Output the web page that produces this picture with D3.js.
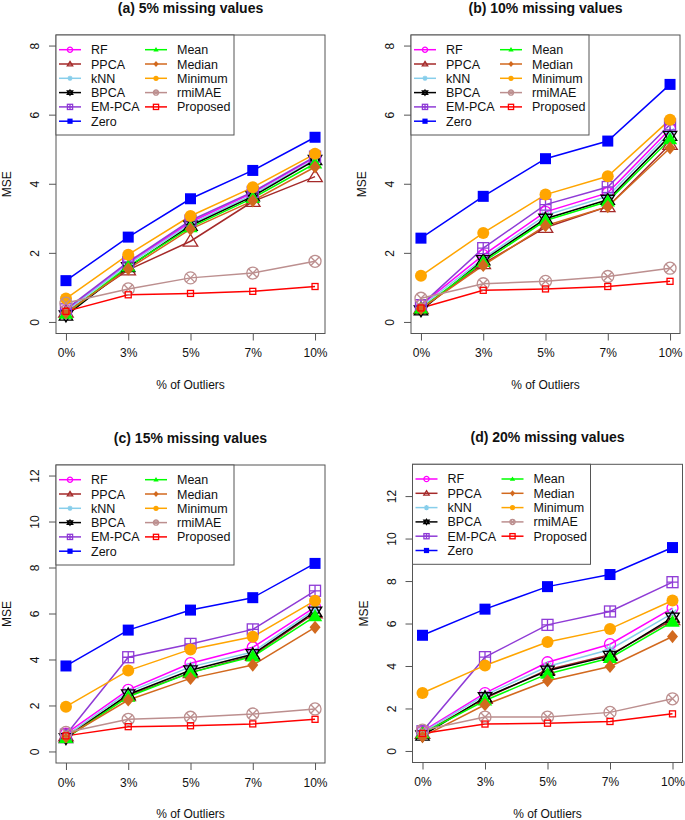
<!DOCTYPE html>
<html>
<head>
<meta charset="utf-8">
<script src="https://cdn.jsdelivr.net/npm/d3@7"></script>
<style>
  body { margin: 0; background: #fff; }
  svg text { font-family: "Liberation Sans", Arial, Helvetica, sans-serif; fill: #111; }
</style>
</head>
<body>
<div id="chart"></div>
<script>
//////////////////////////////////////////////
// Data //////////////////////////////////////
//////////////////////////////////////////////
var outliers = ["0%", "3%", "5%", "7%", "10%"];
var methods = ["RF", "PPCA", "kNN", "BPCA", "EM-PCA", "Zero", "Mean", "Median", "Minimum", "rmiMAE", "Proposed"];
var titles = ["(a) 5% missing values", "(b) 10% missing values", "(c) 15% missing values", "(d) 20% missing values"];
var yMaxes = [8, 8, 12, 13];
var yTicks = [[0, 2, 4, 6, 8], [0, 2, 4, 6, 8], [0, 2, 4, 6, 8, 10, 12], [0, 2, 4, 6, 8, 10, 12]];

// one row per method, same order as `methods`
var mse5 = [
  [0.35, 1.72, 2.90, 3.75, 4.78],
  [0.30, 1.52, 2.35, 3.50, 4.22],
  [0.32, 1.68, 2.85, 3.70, 4.72],
  [0.20, 1.60, 2.80, 3.65, 4.70],
  [0.38, 1.75, 2.95, 3.78, 4.80],
  [1.21, 2.47, 3.58, 4.40, 5.36],
  [0.25, 1.62, 2.75, 3.60, 4.60],
  [0.28, 1.55, 2.70, 3.52, 4.50],
  [0.69, 1.96, 3.08, 3.91, 4.88],
  [0.56, 0.97, 1.29, 1.43, 1.77],
  [0.32, 0.80, 0.84, 0.90, 1.04]
];
var mse10 = [
  [0.50, 1.95, 3.20, 3.75, 5.60],
  [0.40, 1.70, 2.75, 3.35, 5.15],
  [0.45, 1.85, 3.10, 3.65, 5.50],
  [0.35, 1.80, 3.00, 3.55, 5.40],
  [0.50, 2.15, 3.41, 3.92, 5.73],
  [2.44, 3.65, 4.74, 5.25, 6.89],
  [0.40, 1.75, 2.95, 3.50, 5.30],
  [0.40, 1.65, 2.80, 3.35, 5.05],
  [1.35, 2.59, 3.70, 4.23, 5.87],
  [0.70, 1.12, 1.19, 1.33, 1.57],
  [0.42, 0.93, 0.97, 1.04, 1.19]
];
var mse15 = [
  [0.80, 2.70, 3.86, 4.55, 6.30],
  [0.70, 2.45, 3.45, 4.20, 6.05],
  [0.70, 2.60, 3.70, 4.35, 6.20],
  [0.60, 2.50, 3.55, 4.25, 6.10],
  [0.75, 4.12, 4.70, 5.33, 7.01],
  [3.74, 5.30, 6.17, 6.71, 8.20],
  [0.60, 2.40, 3.45, 4.15, 5.90],
  [0.65, 2.26, 3.20, 3.78, 5.42],
  [1.97, 3.54, 4.46, 5.01, 6.58],
  [0.85, 1.42, 1.51, 1.65, 1.87],
  [0.70, 1.10, 1.14, 1.22, 1.42]
];
var mse20 = [
  [0.95, 2.75, 4.20, 5.05, 6.75],
  [0.85, 2.50, 3.85, 4.55, 6.20],
  [0.90, 2.65, 4.00, 4.80, 6.50],
  [0.75, 2.55, 3.80, 4.50, 6.30],
  [0.95, 4.44, 5.96, 6.59, 7.97],
  [5.47, 6.70, 7.76, 8.33, 9.60],
  [0.85, 2.40, 3.65, 4.40, 6.10],
  [0.70, 2.20, 3.33, 4.00, 5.41],
  [2.75, 4.05, 5.15, 5.77, 7.11],
  [1.00, 1.62, 1.62, 1.84, 2.48],
  [0.85, 1.29, 1.33, 1.41, 1.77]
];
var panelsData = [mse5, mse10, mse15, mse20];

//////////////////////////////////////////////
// Styles ////////////////////////////////////
//////////////////////////////////////////////
var colors = ["#ff00ff", "#a52a2a", "#87ceeb", "#000000", "#8f3bd6", "#0000ff",
              "#00ff00", "#d2691e", "#ffa500", "#bc8f8f", "#ff0000"];
var shapes = ["circle", "triangle", "asterisk", "david", "squarePlus", "squareFill",
              "triangleFill", "diamondFill", "circleFill", "circleX", "square"];
var sizes = [5.5, 7, 5.5, 6.5, 5.5, 5.5, 7, 5.5, 6, 6, 3];   // half-widths in the plot

// plot boxes (left, top, right, bottom)
var boxes = [
  {l: 56, t: 35, r: 325, b: 333.5},
  {l: 411, t: 35, r: 680, b: 333.5},
  {l: 56, t: 465, r: 325, b: 763},
  {l: 412.5, t: 464.3, r: 682.5, b: 762.5}
];

var svg = d3.select("#chart").append("svg")
    .attr("width", 685)
    .attr("height", 820);

// draw one R style symbol centred at 0,0
function symbol(g, shape, r, col) {
  var sw = 1.3;
  var tri = function(s, up) {
    var h = s * 0.9;
    return up
      ? "M0," + (-s) + "L" + (h * 1.15) + "," + (s * 0.7) + "L" + (-h * 1.15) + "," + (s * 0.7) + "Z"
      : "M0," + s + "L" + (h * 1.15) + "," + (-s * 0.7) + "L" + (-h * 1.15) + "," + (-s * 0.7) + "Z";
  };
  if (shape === "circle") {
    g.append("circle").attr("r", r).attr("fill", "none").attr("stroke", col).attr("stroke-width", sw);
  } else if (shape === "circleFill") {
    g.append("circle").attr("r", r).attr("fill", col);
  } else if (shape === "circleX") {
    g.append("circle").attr("r", r).attr("fill", "none").attr("stroke", col).attr("stroke-width", sw);
    var k = r * 0.707;
    g.append("path").attr("d", "M" + (-k) + "," + (-k) + "L" + k + "," + k + "M" + (-k) + "," + k + "L" + k + "," + (-k))
      .attr("stroke", col).attr("stroke-width", sw);
  } else if (shape === "triangle") {
    g.append("path").attr("d", tri(r, true)).attr("fill", "none").attr("stroke", col).attr("stroke-width", sw);
  } else if (shape === "triangleFill") {
    g.append("path").attr("d", tri(r, true)).attr("fill", col);
  } else if (shape === "david") {
    g.append("path").attr("d", tri(r, true) + tri(r, false)).attr("fill", "none").attr("stroke", col).attr("stroke-width", sw);
  } else if (shape === "asterisk") {
    var a = r * 0.707;
    g.append("path").attr("d", "M" + (-r) + ",0L" + r + ",0M0," + (-r) + "L0," + r +
      "M" + (-a) + "," + (-a) + "L" + a + "," + a + "M" + (-a) + "," + a + "L" + a + "," + (-a))
      .attr("stroke", col).attr("stroke-width", sw);
  } else if (shape === "square") {
    g.append("rect").attr("x", -r).attr("y", -r).attr("width", 2 * r).attr("height", 2 * r)
      .attr("fill", "none").attr("stroke", col).attr("stroke-width", sw);
  } else if (shape === "squareFill") {
    g.append("rect").attr("x", -r).attr("y", -r).attr("width", 2 * r).attr("height", 2 * r).attr("fill", col);
  } else if (shape === "squarePlus") {
    g.append("rect").attr("x", -r).attr("y", -r).attr("width", 2 * r).attr("height", 2 * r)
      .attr("fill", "none").attr("stroke", col).attr("stroke-width", sw);
    g.append("path").attr("d", "M" + (-r) + ",0L" + r + ",0M0," + (-r) + "L0," + r)
      .attr("stroke", col).attr("stroke-width", sw);
  } else if (shape === "diamondFill") {
    g.append("path").attr("d", "M0," + (-r * 1.2) + "L" + r + ",0L0," + (r * 1.2) + "L" + (-r) + ",0Z").attr("fill", col);
  }
}

//////////////////////////////////////////////
// Drawing ///////////////////////////////////
//////////////////////////////////////////////
function drawPanel(p) {
  var box = boxes[p];
  var data = panelsData[p];
  var ymax = yMaxes[p];
  var g = svg.append("g");

  var xScale = d3.scalePoint().domain(outliers).range([box.l, box.r]).padding(0.16);
  var yScale = d3.scaleLinear().domain([-0.04 * ymax, 1.04 * ymax]).range([box.b, box.t]);

  // axes
  var xAxis = d3.axisBottom(xScale).tickSize(7).tickPadding(8);
  var xAxisEl = g.append("g").attr("transform", "translate(0," + box.b + ")").call(xAxis);
  xAxisEl.select(".domain").remove();
  xAxisEl.selectAll("line").attr("stroke", "#555");
  xAxisEl.selectAll("text").style("font-size", "12px").style("font-family", "Liberation Sans, Arial, sans-serif").attr("fill", "#111");

  var yAxis = d3.axisLeft(yScale).tickValues(yTicks[p]).tickSize(7).tickFormat(d3.format("d"));
  var yAxisEl = g.append("g").attr("transform", "translate(" + box.l + ",0)").call(yAxis);
  yAxisEl.select(".domain").remove();
  yAxisEl.selectAll("line").attr("stroke", "#555");
  yAxisEl.selectAll("text")
      .attr("x", 0).attr("dy", null)
      .attr("text-anchor", "middle")
      .attr("transform", function(d) { return "translate(-17," + yScale(d) + ") rotate(-90)"; })
      .attr("y", 0)
      .style("font-size", "12px").style("font-family", "Liberation Sans, Arial, sans-serif").attr("fill", "#111");
  yAxisEl.selectAll(".tick").attr("transform", null);
  yAxisEl.selectAll(".tick line").attr("transform", function(d) { return "translate(0," + yScale(d) + ")"; });

  // series lines then symbols
  var line = d3.line()
      .x(function(d, i) { return xScale(outliers[i]); })
      .y(function(d) { return yScale(d); });

  data.forEach(function(vals, m) {
    g.append("path").datum(vals)
        .attr("d", line)
        .attr("fill", "none")
        .attr("stroke", colors[m])
        .attr("stroke-width", 1.5);
  });
  data.forEach(function(vals, m) {
    vals.forEach(function(v, i) {
      var s = g.append("g").attr("transform", "translate(" + xScale(outliers[i]) + "," + yScale(v) + ")");
      symbol(s, shapes[m], sizes[m], colors[m]);
    });
  });

  // box
  g.append("rect")
      .attr("x", box.l).attr("y", box.t)
      .attr("width", box.r - box.l).attr("height", box.b - box.t)
      .attr("fill", "none").attr("stroke", "#555").attr("stroke-width", 1);

  // legend
  var lw = 178, lh = 100;
  var lg = g.append("g").attr("transform", "translate(" + box.l + "," + box.t + ")");
  lg.append("rect").attr("width", lw).attr("height", lh)
      .attr("fill", "#fff").attr("stroke", "#555").attr("stroke-width", 1);
  methods.forEach(function(name, m) {
    var col = m < 6 ? 0 : 1;
    var row = m < 6 ? m : m - 6;
    var x0 = col === 0 ? 3 : 89;
    var y0 = 14.7 + row * 14.3;
    lg.append("line").attr("x1", x0).attr("x2", x0 + 22).attr("y1", y0).attr("y2", y0)
        .attr("stroke", colors[m]).attr("stroke-width", 1.5);
    var s = lg.append("g").attr("transform", "translate(" + (x0 + 11) + "," + y0 + ")");
    symbol(s, shapes[m], 2.6, colors[m]);
    lg.append("text").attr("x", x0 + 32).attr("y", y0).attr("dy", "0.36em")
        .style("font-size", "12.5px").text(name);
  });

  // titles and labels
  var cx = (box.l + box.r) / 2;
  g.append("text").attr("x", cx).attr("y", box.t - 27).attr("dy", "0.36em")
      .attr("text-anchor", "middle").style("font-size", "14px").style("font-weight", "bold")
      .text(titles[p]);
  g.append("text").attr("x", cx).attr("y", box.b + 51).attr("dy", "0.36em")
      .attr("text-anchor", "middle").style("font-size", "12px").text("% of Outliers");
  g.append("text")
      .attr("transform", "translate(" + (box.l - 49) + "," + ((box.t + box.b) / 2) + ") rotate(-90)")
      .attr("dy", "0.36em").attr("text-anchor", "middle").style("font-size", "12px").text("MSE");
}

for (var p = 0; p < 4; p++) {
  drawPanel(p);
}
</script>
</body>
</html>
